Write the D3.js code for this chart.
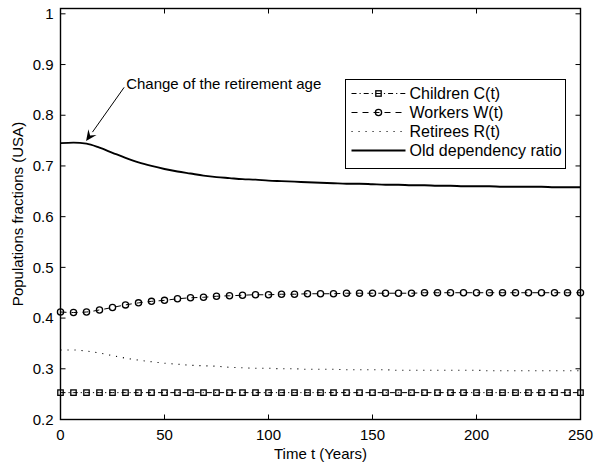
<!DOCTYPE html>
<html>
<head>
<meta charset="utf-8">
<script src="https://cdn.jsdelivr.net/npm/d3@7"></script>
<style>
  html, body { margin: 0; padding: 0; background: #fff; }
  svg { display: block; font-family: "Liberation Sans", Arial, Helvetica, sans-serif; }
</style>
</head>
<body>
<div id="chart"></div>
<script>
// time axis (years), one value per plotted point / marker
const years = [0, 6.25, 12.5, 18.75, 25, 31.25, 37.5, 43.75, 50, 56.25,
  62.5, 68.75, 75, 81.25, 87.5, 93.75, 100, 106.25, 112.5, 118.75,
  125, 131.25, 137.5, 143.75, 150, 156.25, 162.5, 168.75, 175, 181.25,
  187.5, 193.75, 200, 206.25, 212.5, 218.75, 225, 231.25, 237.5, 243.75, 250];

const children = [0.253, 0.253, 0.253, 0.253, 0.253, 0.253, 0.253, 0.253, 0.253, 0.253,
  0.253, 0.253, 0.253, 0.253, 0.253, 0.253, 0.253, 0.253, 0.253, 0.253,
  0.253, 0.253, 0.253, 0.253, 0.253, 0.253, 0.253, 0.253, 0.253, 0.253,
  0.253, 0.253, 0.253, 0.253, 0.253, 0.253, 0.253, 0.253, 0.253, 0.253, 0.253];

const workers = [0.412, 0.411, 0.412, 0.416, 0.421, 0.426, 0.430, 0.433, 0.435, 0.438,
  0.440, 0.441, 0.443, 0.444, 0.445, 0.446, 0.446, 0.447, 0.447, 0.448,
  0.448, 0.448, 0.449, 0.449, 0.449, 0.449, 0.449, 0.449, 0.450, 0.450,
  0.450, 0.450, 0.450, 0.450, 0.450, 0.450, 0.450, 0.450, 0.450, 0.450, 0.450];

const retirees = [0.337, 0.337, 0.335, 0.331, 0.326, 0.321, 0.317, 0.314, 0.311, 0.309,
  0.307, 0.306, 0.305, 0.303, 0.302, 0.301, 0.301, 0.300, 0.300, 0.299,
  0.299, 0.299, 0.298, 0.298, 0.298, 0.298, 0.297, 0.297, 0.297, 0.297,
  0.297, 0.297, 0.297, 0.296, 0.296, 0.296, 0.296, 0.296, 0.296, 0.296, 0.296];

const oldDependency = [0.745, 0.746, 0.744, 0.736, 0.726, 0.716, 0.707, 0.700, 0.694, 0.689,
  0.685, 0.681, 0.678, 0.676, 0.674, 0.673, 0.671, 0.670, 0.669, 0.668,
  0.667, 0.666, 0.665, 0.665, 0.664, 0.663, 0.663, 0.662, 0.662, 0.661,
  0.661, 0.660, 0.660, 0.660, 0.659, 0.659, 0.659, 0.659, 0.658, 0.658, 0.658];

const xTicks = [0, 50, 100, 150, 200, 250];
const yTicks = [0.2, 0.3, 0.4, 0.5, 0.6, 0.7, 0.8, 0.9, 1];
const yTickLabels = ['0.2', '0.3', '0.4', '0.5', '0.6', '0.7', '0.8', '0.9', '1'];

const seriesNames = ['Children C(t)', 'Workers W(t)', 'Retirees R(t)', 'Old dependency ratio'];

// annotation: arrow tail (text) and head, in data units
const annotationText = 'Change of the retirement age';
const annotationTail = { t: 30.6, v: 0.855 };
const annotationHead = { t: 12.3, v: 0.749 };

const width = 594, height = 466;
const margin = { top: 8.5, right: 13.5, bottom: 46.5, left: 60.5 };

const svg = d3.select('#chart')
  .append('svg')
    .attr('width', width)
    .attr('height', height);

const x = d3.scaleLinear()
  .domain([0, 250])
  .range([margin.left, width - margin.right]);
const y = d3.scaleLinear()
  .domain([0.2, 1.0105])
  .range([height - margin.bottom, margin.top]);

const series = [
  { name: seriesNames[0], values: children, dash: '5,3,1.2,3', width: 1, marker: 'square' },
  { name: seriesNames[1], values: workers, dash: '6,5', width: 1, marker: 'circle' },
  { name: seriesNames[2], values: retirees, dash: '1.1,5.9', width: 1.1, marker: null },
  { name: seriesNames[3], values: oldDependency, dash: null, width: 1.9, marker: null },
];

const plot = svg.append('g').attr('class', 'plot');

const line = d3.line()
  .x((d) => x(d[0]))
  .y((d) => y(d[1]))
  .curve(d3.curveMonotoneX);

// lines
series.forEach((s) => {
  const pts = years.map((t, i) => [t, s.values[i]]);
  plot.append('path')
    .datum(pts)
    .attr('fill', 'none')
    .attr('stroke', '#000')
    .attr('stroke-width', s.width)
    .attr('stroke-dasharray', s.dash)
    .attr('d', line);
});

// open markers, the line shows through them (matlab style)
function drawMarker(g, type, cx, cy) {
  if (type === 'square') {
    g.append('rect')
      .attr('x', cx - 2.7).attr('y', cy - 2.7)
      .attr('width', 5.4).attr('height', 5.4)
      .attr('fill', 'none').attr('stroke', '#000').attr('stroke-width', 1.3);
  } else if (type === 'circle') {
    g.append('circle')
      .attr('cx', cx).attr('cy', cy).attr('r', 3.1)
      .attr('fill', 'none').attr('stroke', '#000').attr('stroke-width', 1.3);
  }
}

// markers
series.filter((s) => s.marker).forEach((s) => {
  const g = plot.append('g');
  years.forEach((t, i) => drawMarker(g, s.marker, x(t), y(s.values[i])));
});

// frame + axes, ticks inside on all sides
const x0 = x.range()[0], x1 = x.range()[1];
const y0 = height - margin.bottom, y1 = margin.top;
const tickLen = 5;

svg.append('rect')
  .attr('x', x0).attr('y', y1)
  .attr('width', x1 - x0).attr('height', y0 - y1)
  .attr('fill', 'none').attr('stroke', '#000').attr('stroke-width', 1.4);

const ticks = svg.append('g').attr('stroke', '#000').attr('stroke-width', 1);
xTicks.forEach((t) => {
  ticks.append('line').attr('x1', x(t)).attr('x2', x(t)).attr('y1', y0).attr('y2', y0 - tickLen);
  ticks.append('line').attr('x1', x(t)).attr('x2', x(t)).attr('y1', y1).attr('y2', y1 + tickLen);
});
yTicks.forEach((v) => {
  ticks.append('line').attr('x1', x0).attr('x2', x0 + tickLen).attr('y1', y(v)).attr('y2', y(v));
  ticks.append('line').attr('x1', x1).attr('x2', x1 - tickLen).attr('y1', y(v)).attr('y2', y(v));
});

svg.append('g').selectAll('text')
  .data(xTicks)
  .enter().append('text')
    .attr('x', (d) => x(d))
    .attr('y', y0 + 20)
    .attr('text-anchor', 'middle')
    .style('font-size', '15px')
    .text((d) => d);

svg.append('g').selectAll('text')
  .data(yTicks)
  .enter().append('text')
    .attr('x', x0 - 7)
    .attr('y', (d) => y(d))
    .attr('dy', '0.35em')
    .attr('text-anchor', 'end')
    .style('font-size', '15px')
    .text((d, i) => yTickLabels[i]);

// axis titles
svg.append('text')
  .attr('x', (x0 + x1) / 2)
  .attr('y', 459)
  .attr('text-anchor', 'middle')
  .style('font-size', '15px')
  .text('Time t (Years)');

svg.append('text')
  .attr('transform', `translate(23,${(y0 + y1) / 2}) rotate(-90)`)
  .attr('text-anchor', 'middle')
  .style('font-size', '15px')
  .text('Populations fractions (USA)');

// annotation arrow
const tx = x(annotationTail.t), ty = y(annotationTail.v);
const hx = x(annotationHead.t), hy = y(annotationHead.v);
const ang = Math.atan2(hy - ty, hx - tx);
const headLen = 11, headW = 5;
const bx = hx - headLen * Math.cos(ang), by = hy - headLen * Math.sin(ang);
const nx = -Math.sin(ang), ny = Math.cos(ang);

svg.append('line')
  .attr('x1', tx).attr('y1', ty).attr('x2', bx).attr('y2', by)
  .attr('stroke', '#000').attr('stroke-width', 1);
svg.append('path')
  .attr('d', `M${hx},${hy}L${bx + nx * headW},${by + ny * headW}L${hx - 7 * Math.cos(ang)},${hy - 7 * Math.sin(ang)}L${bx - nx * headW},${by - ny * headW}Z`)
  .attr('fill', '#000');

svg.append('text')
  .attr('x', tx + 2)
  .attr('y', ty + 2)
  .style('font-size', '15px')
  .text(annotationText);

// legend
const legend = svg.append('g').attr('class', 'legend');
const lgX = 345.5, lgY = 79.5, lgW = 220, lgH = 89;
legend.append('rect')
  .attr('x', lgX).attr('y', lgY).attr('width', lgW).attr('height', lgH)
  .attr('fill', '#fff').attr('stroke', '#000').attr('stroke-width', 1);

series.forEach((s, i) => {
  const cy = lgY + 14 + i * 19;
  const row = legend.append('g');
  row.append('line')
    .attr('x1', lgX + 6).attr('x2', lgX + 60)
    .attr('y1', cy).attr('y2', cy)
    .attr('stroke', '#000')
    .attr('stroke-width', s.width)
    .attr('stroke-dasharray', s.dash);
  if (s.marker) drawMarker(row, s.marker, lgX + 33, cy);
  row.append('text')
    .attr('x', lgX + 64)
    .attr('y', cy)
    .attr('dy', '0.35em')
    .style('font-size', '16px')
    .text(s.name);
});
</script>
</body>
</html>
